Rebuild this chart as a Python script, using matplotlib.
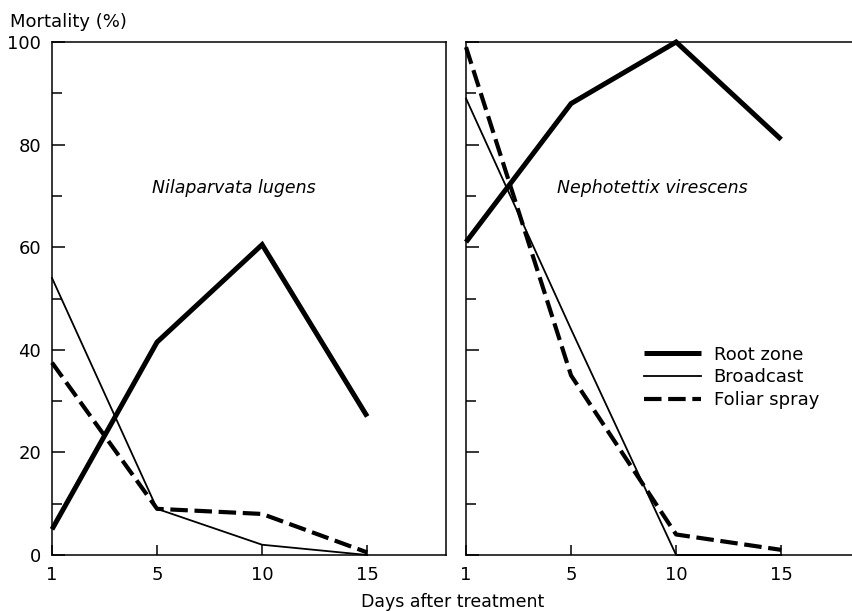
import matplotlib
matplotlib.use("Agg")
import matplotlib.pyplot as plt
from matplotlib.ticker import MultipleLocator

plt.rcParams['font.family'] = ['DejaVu Sans']

days = ["1", "5", "10", "15"]
# Nilaparvata lugens
nl_root = [5, 41.5, 60.5, 27]
nl_broad = [54, 9, 2, 0]
nl_foliar = [37.5, 9, 8, 0.5]
# Nephotettix virescens
nv_root = [61, 88, 100, 81]
nv_broad = [89, 44, 0, 0]
nv_foliar = [99, 35, 4, 1]

series_names = ["Root zone", "Broadcast", "Foliar spray"]
panel_titles = ["Nilaparvata lugens", "Nephotettix virescens"]

W, H = 853, 611
fig = plt.figure(figsize=(W / 100, H / 100), dpi=100)

bot = 1 - 555 / H
top = 1 - 42 / H
left1 = 52 / W
wid = (446 - 52) / W
left2 = 466 / W

ax1 = fig.add_axes([left1, bot, wid, top - bot])
ax2 = fig.add_axes([left2, bot, wid, top - bot])

styles = [
    dict(color='black', lw=3.6, solid_capstyle='butt', solid_joinstyle='miter'),
    dict(color='black', lw=1.3),
    dict(color='black', lw=3.0, linestyle=(0, (4.2, 1.6)), dash_capstyle='butt'),
]

x = list(range(len(days)))
data = [(nl_root, nl_broad, nl_foliar), (nv_root, nv_broad, nv_foliar)]

for ax, ser, title, tx in zip([ax1, ax2], data, panel_titles, [0.95, 0.87]):
    for vals, st, name in zip(ser, styles, series_names):
        ax.plot(x, vals, label=name, clip_on=False, **st)
    ax.set_xlim(0, 3.75)
    ax.set_ylim(0, 100)
    ax.set_xticks(x)
    ax.set_xticklabels(days)
    ax.yaxis.set_major_locator(MultipleLocator(20))
    ax.yaxis.set_minor_locator(MultipleLocator(10))
    ax.tick_params(axis='both', which='both', direction='in', width=1.1,
                   labelsize=13, pad=8)
    ax.tick_params(axis='y', which='major', length=9)
    ax.tick_params(axis='y', which='minor', length=7)
    ax.tick_params(axis='x', which='major', length=7)
    for sp in ax.spines.values():
        sp.set_linewidth(1.1)
    ax.text(tx, 71.6, title, style='italic', fontsize=12.5,
            ha='left', va='center')

ax2.set_yticklabels([])
ax2.spines['right'].set_visible(False)

leg = ax2.legend(loc='upper left', bbox_to_anchor=(0.452, 0.408),
                 frameon=False, fontsize=13, handlelength=3.15,
                 handletextpad=0.7, labelspacing=0.26, borderpad=0,
                 borderaxespad=0)

fig.text(10 / W, 1 - 22 / H, "Mortality (%)", fontsize=13,
         ha='left', va='center')
fig.text(453 / W, 1 - 602 / H, "Days after treatment", fontsize=12.5,
         ha='center', va='center')

fig.savefig("out.png", dpi=100)
